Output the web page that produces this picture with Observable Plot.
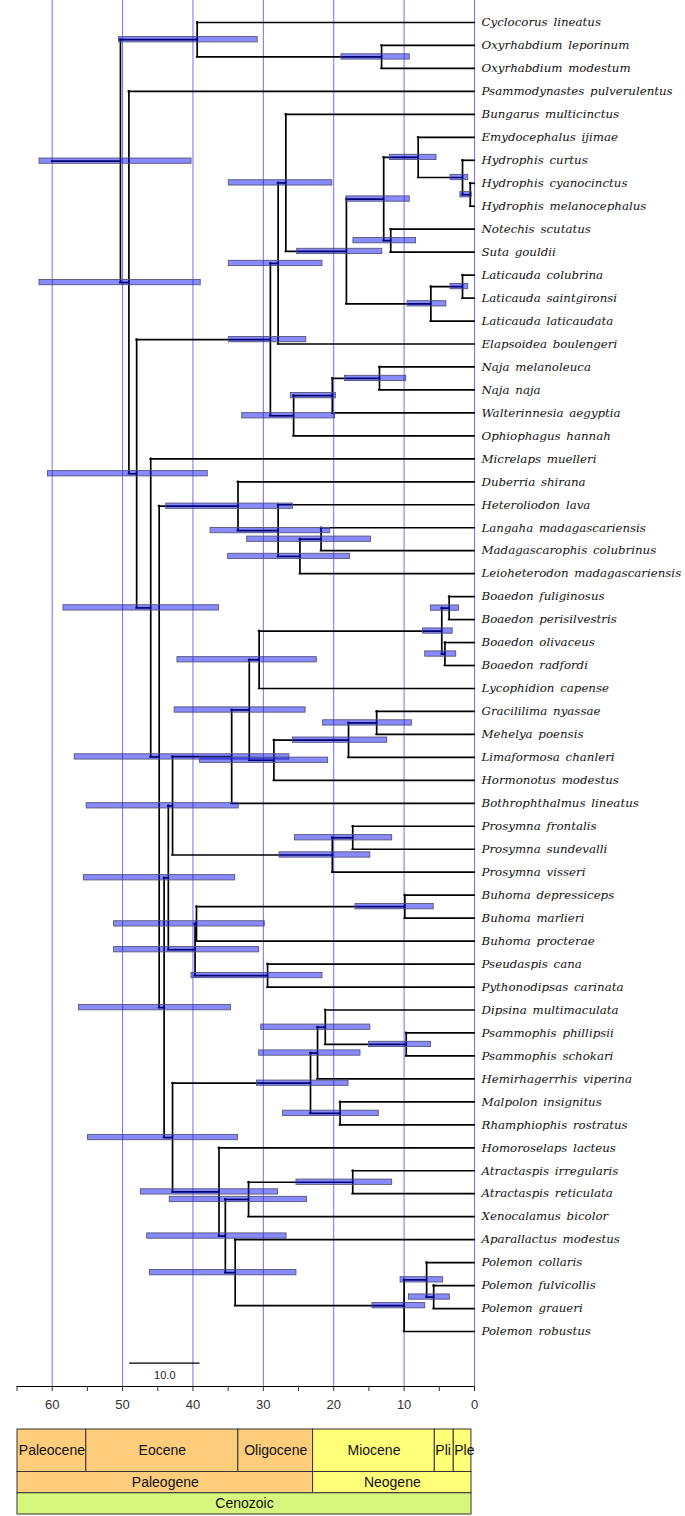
<!DOCTYPE html>
<html><head><meta charset="utf-8">
<script src="https://cdn.jsdelivr.net/npm/d3@7"></script>
<script src="https://cdn.jsdelivr.net/npm/@observablehq/plot@0.6"></script>
<style>body{margin:0;background:#fff} svg{display:block}</style>
</head><body><div id="chart"></div>
<script>
// ---- tip taxa (top to bottom) ----
const taxa = [
"Cyclocorus lineatus","Oxyrhabdium leporinum","Oxyrhabdium modestum","Psammodynastes pulverulentus",
"Bungarus multicinctus","Emydocephalus ijimae","Hydrophis curtus","Hydrophis cyanocinctus",
"Hydrophis melanocephalus","Notechis scutatus","Suta gouldii","Laticauda colubrina",
"Laticauda saintgironsi","Laticauda laticaudata","Elapsoidea boulengeri","Naja melanoleuca",
"Naja naja","Walterinnesia aegyptia","Ophiophagus hannah","Micrelaps muelleri",
"Duberria shirana","Heteroliodon lava","Langaha madagascariensis","Madagascarophis colubrinus",
"Leioheterodon madagascariensis","Boaedon fuliginosus","Boaedon perisilvestris","Boaedon olivaceus",
"Boaedon radfordi","Lycophidion capense","Gracililima nyassae","Mehelya poensis",
"Limaformosa chanleri","Hormonotus modestus","Bothrophthalmus lineatus","Prosymna frontalis",
"Prosymna sundevalli","Prosymna visseri","Buhoma depressiceps","Buhoma marlieri",
"Buhoma procterae","Pseudaspis cana","Pythonodipsas carinata","Dipsina multimaculata",
"Psammophis phillipsii","Psammophis schokari","Hemirhagerrhis viperina","Malpolon insignitus",
"Rhamphiophis rostratus","Homoroselaps lacteus","Atractaspis irregularis","Atractaspis reticulata",
"Xenocalamus bicolor","Aparallactus modestus","Polemon collaris","Polemon fulvicollis",
"Polemon graueri","Polemon robustus"];

// ---- internal nodes ----
const nodeNames = ["root","cyc","oxy","psam","rest","elap1","elap2","elap3","core","hydnot","hyd","hydrophis","hcm","notsuta","lati","colsai","najagrp","najwal","naja","lamp","x","dub","hetps","pseudox","langmad","y","w","z","n231","n249","lyco","boaedon","bfp","bor","n273","lima","grmeh","pros","prosfs","buhps","buh","buhdm","pseud","v","psamclade","hem","dip","psamm","mal","atract","n225","atrx","atr","apa","pol","pol3","polfg"];
const nodeChildren = [
["cyc","psam"],["Cyclocorus lineatus","oxy"],["Oxyrhabdium leporinum","Oxyrhabdium modestum"],
["Psammodynastes pulverulentus","rest"],["elap1","lamp"],["elap2","najagrp"],["elap3","Elapsoidea boulengeri"],
["Bungarus multicinctus","core"],["hydnot","lati"],["hyd","notsuta"],["Emydocephalus ijimae","hydrophis"],
["Hydrophis curtus","hcm"],["Hydrophis cyanocinctus","Hydrophis melanocephalus"],["Notechis scutatus","Suta gouldii"],
["colsai","Laticauda laticaudata"],["Laticauda colubrina","Laticauda saintgironsi"],["najwal","Ophiophagus hannah"],
["naja","Walterinnesia aegyptia"],["Naja melanoleuca","Naja naja"],["Micrelaps muelleri","x"],["dub","y"],
["Duberria shirana","hetps"],["Heteroliodon lava","pseudox"],["langmad","Leioheterodon madagascariensis"],
["Langaha madagascariensis","Madagascarophis colubrinus"],["w","v"],["z","buhps"],["n231","pros"],
["n249","Bothrophthalmus lineatus"],["lyco","n273"],["boaedon","Lycophidion capense"],["bfp","bor"],
["Boaedon fuliginosus","Boaedon perisilvestris"],["Boaedon olivaceus","Boaedon radfordi"],
["lima","Hormonotus modestus"],["grmeh","Limaformosa chanleri"],["Gracililima nyassae","Mehelya poensis"],
["prosfs","Prosymna visseri"],["Prosymna frontalis","Prosymna sundevalli"],["buh","pseud"],
["buhdm","Buhoma procterae"],["Buhoma depressiceps","Buhoma marlieri"],["Pseudaspis cana","Pythonodipsas carinata"],
["psamclade","atract"],["hem","mal"],["dip","Hemirhagerrhis viperina"],["Dipsina multimaculata","psamm"],
["Psammophis phillipsii","Psammophis schokari"],["Malpolon insignitus","Rhamphiophis rostratus"],
["Homoroselaps lacteus","n225"],["atrx","apa"],["atr","Xenocalamus bicolor"],
["Atractaspis irregularis","Atractaspis reticulata"],["Aparallactus modestus","pol"],["pol3","Polemon robustus"],
["Polemon collaris","polfg"],["Polemon fulvicollis","Polemon graueri"]];
const nodeAges = [50.3,39.4,13.2,49.1,48.0,29.0,27.9,26.8,18.2,12.9,8.0,1.7,0.6,11.9,6.2,1.7,25.7,20.2,13.5,46.0,44.8,33.6,27.9,24.8,21.8,44.1,43.5,42.9,34.5,32.0,30.6,4.65,3.6,4.2,28.5,17.9,13.9,20.2,17.3,39.7,39.5,9.9,29.4,42.9,23.3,22.3,21.2,9.7,19.1,36.3,35.4,32.1,17.3,34.0,10.0,6.8,5.8];
const hpdOld   = [61.8,50.5,18.9,61.8,60.6,34.9,34.9,34.9,25.2,18.2,12.0,3.4,2.0,17.2,9.5,3.4,33.0,26.1,18.4,58.4,56.8,43.8,37.5,35.0,32.3,56.2,55.5,55.1,null,42.6,42.2,7.3,6.2,7.0,39.0,25.8,21.5,27.7,25.5,51.2,51.2,16.9,40.2,54.9,30.9,30.6,30.3,15.0,27.2,47.4,46.5,43.3,25.3,46.1,14.5,10.5,9.3];
const hpdYoung = [40.2,30.8,9.2,38.9,37.9,23.9,21.6,20.2,13.1,9.2,5.4,0.9,0.4,8.3,4.0,0.9,19.8,19.7,9.7,36.3,26.3,25.8,20.5,17.7,14.7,34.6,34.0,33.5,null,24.0,22.4,3.1,2.2,2.6,20.8,12.4,8.9,14.8,11.7,30.6,29.8,5.8,21.6,33.6,17.9,16.2,14.8,6.2,13.6,27.9,26.7,23.8,11.7,25.3,7.0,4.45,3.5];
const rootStemAge = 60;

// ---- axis ----
const minorTicks = d3.range(0, 66, 5);
const majorTicks = d3.range(0, 61, 10);
const scaleBarOld = 49, scaleBarLength = 10, scaleBarLabel = "10.0";

// ---- geological time scale ----
const epochNames = ["Paleocene","Eocene","Oligocene","Miocene","Pli","Ple"];
const epochOld   = [66, 56, 33.9, 23.03, 5.333, 2.58];
const epochYoung = [56, 33.9, 23.03, 5.333, 2.58, 0.0117];
const periodNames = ["Paleogene","Neogene"];
const periodOld   = [66, 23.03];
const periodYoung = [23.03, 0];
const eraNames = ["Cenozoic"];
const eraOld = [66], eraYoung = [0];

// ---- build tree layout ----
const tipRow = new Map(taxa.map((t, i) => [t, i]));
const nodes = nodeNames.map((n, i) => ({name: n, age: nodeAges[i], kids: nodeChildren[i], old: hpdOld[i], young: hpdYoung[i]}));
const byName = new Map(nodes.map(d => [d.name, d]));
function rowOf(name) {
  if (tipRow.has(name)) return tipRow.get(name);
  const n = byName.get(name);
  if (n.row == null) {
    const r = n.kids.map(rowOf);
    n.rmin = Math.min(...r); n.rmax = Math.max(...r); n.row = (n.rmin + n.rmax) / 2;
  }
  return n.row;
}
nodes.forEach(n => rowOf(n.name));
const ageOf = name => tipRow.has(name) ? 0 : byName.get(name).age;
const edges = [];
nodes.forEach(n => n.kids.forEach(k => edges.push({from: n.age, to: ageOf(k), row: rowOf(k)})));
const root = byName.get("root");
edges.push({from: rootStemAge, to: root.age, row: root.row});
const bars = nodes.filter(n => n.old != null);
const tips = taxa.map((t, i) => ({name: t, row: i}));

// layout
const W = 685, H1 = 1420, marginBottom = 34;
const rowTop = 22, rowBottom = 1331;
const rowStep = (rowBottom - rowTop) / (taxa.length - 1);
const axisRow = (H1 - marginBottom - rowTop) / rowStep;
const barHalf = 0.115;
const sans = "Liberation Sans, Arial, sans-serif";

const tree = Plot.plot({
  width: W, height: H1,
  marginLeft: 16.5, marginRight: W - 474, marginTop: 0, marginBottom,
  x: {domain: [65, 0], axis: null},
  y: {domain: [0, taxa.length - 1], range: [rowTop, rowBottom], axis: null},
  style: "background:#fff;overflow:visible;word-spacing:2px",
  marks: [
    Plot.ruleX(majorTicks, {stroke: "#7070ff", strokeWidth: 1}),
    Plot.ruleY([axisRow], {stroke: "#000", strokeWidth: 1}),
    Plot.axisX({ticks: minorTicks, tickFormat: () => "", tickSize: 5, stroke: "#333"}),
    Plot.axisX({ticks: majorTicks, tickSize: 0, tickPadding: 13, fontSize: 13, fontFamily: sans, fill: "#333"}),
    Plot.ruleY(edges, {y: "row", x1: "from", x2: "to", stroke: "#000", strokeWidth: 1.7, strokeLinecap: "square"}),
    Plot.ruleX(nodes, {x: "age", y1: "rmin", y2: "rmax", stroke: "#000", strokeWidth: 1.7, strokeLinecap: "square"}),
    Plot.rect(bars, {x1: "old", x2: "young", y1: d => d.row - barHalf, y2: d => d.row + barHalf,
      fill: "#0000ff", fillOpacity: 0.46, stroke: "#555577", strokeWidth: 0.9}),
    Plot.text(tips, {x: 0, y: "row", text: "name", dx: 7, textAnchor: "start", fontStyle: "italic",
      fontFamily: "DejaVu Serif", fontSize: 11.8, fill: "#111"}),
    Plot.ruleY([58.38], {x1: scaleBarOld, x2: scaleBarOld - scaleBarLength, stroke: "#000", strokeWidth: 1.2}),
    Plot.text([scaleBarLabel], {x: scaleBarOld - scaleBarLength / 2, y: 58.38, dy: 12, text: d => d, fontSize: 11, fontFamily: sans, fill: "#222"})
  ]
});

const periodColor = name => ["Paleocene","Eocene","Oligocene","Paleogene"].includes(name) ? "#fdcd7c" : "#ffff78";
const epochs = epochNames.map((n, i) => ({name: n, old: epochOld[i], young: epochYoung[i], narrow: epochOld[i] - epochYoung[i] < 5}));
const periods = periodNames.map((n, i) => ({name: n, old: periodOld[i], young: periodYoung[i]}));
const eras = eraNames.map((n, i) => ({name: n, old: eraOld[i], young: eraYoung[i]}));

const timescale = Plot.plot({
  width: W, height: 1516 - H1,
  marginLeft: 17, marginRight: W - 471, marginTop: 0, marginBottom: 0,
  x: {domain: [66, 0], axis: null},
  y: {domain: [0, 4], range: [9, 94], axis: null},
  style: {background: "#fff", overflow: "visible"},
  marks: [
    Plot.rect(epochs, {x1: "old", x2: "young", y1: 0, y2: 2, fill: d => periodColor(d.name), stroke: "#333", strokeWidth: 1}),
    Plot.rect(periods, {x1: "old", x2: "young", y1: 2, y2: 3, fill: d => periodColor(d.name), stroke: "#333", strokeWidth: 1}),
    Plot.rect(eras, {x1: "old", x2: "young", y1: 3, y2: 4, fill: "#d6f67c", stroke: "#333", strokeWidth: 1}),
    Plot.text(epochs.filter(d => !d.narrow), {x: d => (d.old + d.young) / 2, y: 1, text: "name", fontSize: 14, fontFamily: sans, fill: "#111"}),
    Plot.text(epochs.filter(d => d.narrow), {x: "old", y: 1, text: "name", textAnchor: "start", dx: 0.5, fontSize: 14, fontFamily: sans, fill: "#111"}),
    Plot.text(periods, {x: d => (d.old + d.young) / 2, y: 2.5, text: "name", fontSize: 14, fontFamily: sans, fill: "#111"}),
    Plot.text(eras, {x: d => (d.old + d.young) / 2, y: 3.5, text: "name", fontSize: 14, fontFamily: sans, fill: "#111"})
  ]
});

const chart = document.getElementById("chart");
chart.appendChild(tree);
chart.appendChild(timescale);
</script>
</body></html>
